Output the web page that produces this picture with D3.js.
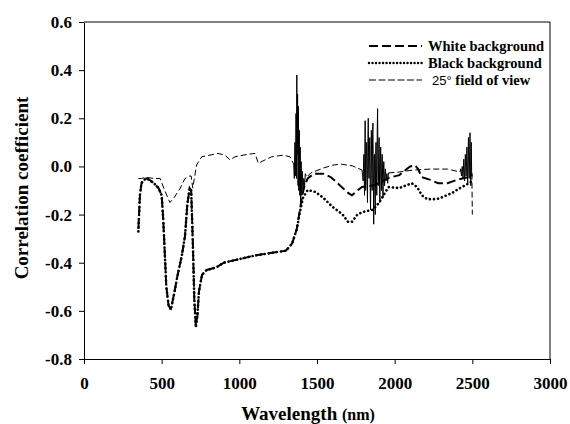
<!DOCTYPE html>
<html>
<head>
<meta charset="utf-8">
<script src="https://cdn.jsdelivr.net/npm/d3@7/dist/d3.min.js"></script>
<style>
body{margin:0;background:#fff;}
svg text{font-family:"Liberation Serif","Times New Roman",serif;font-weight:bold;fill:#000;}
</style>
</head>
<body>
<svg id="chart" width="570" height="424"></svg>
<script>
// ---- data ----
const xTicks = [0, 500, 1000, 1500, 2000, 2500, 3000];
const yTicks = [-0.8, -0.6, -0.4, -0.2, 0.0, 0.2, 0.4, 0.6];

const whiteWl = [350,360,370,380,400,420,450,480,500,510,520,530,545,560,580,600,630,650,665,680,690,700,710,720,730,740,760,790,850,900,1000,1100,1200,1300,1340,1370,1390,1405,1420,1440,1480,1540,1590,1650,1700,1725,1760,1790,1850,1900,1960,2030,2080,2100,2130,2150,2175,2230,2280,2340,2400,2470,2500];
const whiteR  = [-0.26,-0.12,-0.07,-0.06,-0.05,-0.055,-0.07,-0.09,-0.12,-0.22,-0.36,-0.50,-0.58,-0.59,-0.53,-0.46,-0.37,-0.29,-0.16,-0.09,-0.10,-0.30,-0.55,-0.66,-0.62,-0.52,-0.45,-0.43,-0.42,-0.40,-0.385,-0.37,-0.36,-0.35,-0.32,-0.26,-0.18,-0.12,-0.08,-0.05,-0.03,-0.03,-0.045,-0.08,-0.11,-0.12,-0.10,-0.085,-0.08,-0.07,-0.048,-0.036,-0.01,0.0,0.005,-0.01,-0.045,-0.056,-0.07,-0.07,-0.056,-0.045,-0.04];

const blackWl = [350,360,370,380,400,420,450,480,500,510,520,530,545,560,580,600,630,650,665,680,690,700,710,720,730,740,760,790,850,900,1000,1100,1200,1300,1340,1370,1390,1410,1440,1490,1540,1600,1665,1700,1725,1760,1790,1860,1900,1960,2030,2080,2110,2145,2175,2210,2270,2310,2370,2420,2470,2500];
const blackR  = [-0.27,-0.12,-0.07,-0.06,-0.05,-0.055,-0.07,-0.09,-0.12,-0.22,-0.36,-0.50,-0.58,-0.595,-0.53,-0.46,-0.37,-0.29,-0.16,-0.09,-0.10,-0.30,-0.55,-0.67,-0.62,-0.52,-0.45,-0.43,-0.42,-0.40,-0.385,-0.37,-0.36,-0.35,-0.32,-0.26,-0.19,-0.13,-0.098,-0.106,-0.13,-0.168,-0.20,-0.23,-0.23,-0.20,-0.19,-0.18,-0.15,-0.086,-0.09,-0.077,-0.07,-0.086,-0.12,-0.136,-0.136,-0.127,-0.11,-0.09,-0.073,-0.06];

const fovWl = [350,370,400,450,490,520,553,580,620,650,680,690,700,725,758,811,862,908,940,972,1050,1101,1122,1165,1208,1283,1326,1350,1420,1440,1460,1540,1600,1650,1730,1790,1800,1958,1960,2030,2120,2230,2340,2420,2425,2497,2500];
const fovR  = [-0.05,-0.05,-0.045,-0.05,-0.05,-0.10,-0.15,-0.13,-0.09,-0.05,-0.04,-0.04,-0.09,0.006,0.04,0.047,0.054,0.047,0.027,0.04,0.05,0.054,0.013,0.027,0.04,0.047,0.04,0.01,null,-0.04,-0.027,-0.007,0.005,0.01,0.002,-0.015,null,null,-0.027,-0.023,-0.015,-0.011,-0.011,-0.023,null,-0.03,-0.20];

// noisy water-absorption bands of the 25° field of view series
const noise1Wl = [1350,1354,1358,1360,1362,1365,1367,1368,1370,1372,1374,1375,1378,1380,1382,1383,1386,1389,1392,1395,1398,1402,1406,1410,1415,1420,1425,1430];
const noise1R  = [0.01,-0.05,0.10,-0.04,-0.02,0.22,0.0,-0.05,0.38,0.05,0.20,0.30,-0.08,0.25,0.0,-0.10,0.15,-0.12,0.08,-0.15,0.02,-0.12,-0.02,-0.10,-0.05,-0.08,-0.03,-0.04];
const noise2Wl = [1790,1797,1800,1802,1806,1808,1810,1813,1815,1818,1820,1823,1825,1828,1830,1833,1835,1838,1840,1843,1845,1848,1850,1853,1855,1858,1860,1863,1865,1868,1870,1873,1875,1878,1880,1883,1885,1888,1890,1893,1895,1898,1900,1903,1905,1908,1910,1913,1915,1918,1920,1923,1925,1928,1930,1935,1940,1945,1950,1955,1960];
const noise2R  = [-0.015,-0.06,0.02,0.05,-0.12,0.04,0.19,-0.10,-0.08,0.08,0.10,-0.06,-0.15,0.12,0.20,-0.02,-0.05,0.09,0.12,-0.12,-0.18,0.06,0.15,-0.03,-0.10,0.14,0.18,-0.07,-0.24,0.03,0.05,-0.12,-0.20,0.06,0.10,-0.05,-0.12,0.16,0.24,-0.02,-0.08,0.07,0.12,-0.09,-0.15,0.02,0.08,-0.04,-0.10,0.03,0.05,-0.08,-0.13,-0.01,0.02,-0.08,-0.01,-0.06,-0.03,-0.07,-0.027];
const noise3Wl = [2420,2425,2430,2435,2440,2445,2450,2455,2460,2463,2465,2468,2470,2473,2475,2478,2480,2483,2485,2488,2490,2493,2496,2499];
const noise3R  = [-0.023,-0.01,-0.04,0.0,-0.05,0.03,-0.06,0.05,-0.04,0.02,0.08,-0.03,-0.07,0.05,0.12,-0.02,-0.05,0.07,0.14,-0.04,-0.08,0.10,-0.04,-0.03];

const legendLabels = ["White background", "Black background", "25° field of view"];

// ---- layout ----
const svg = d3.select("#chart");
const x = d3.scaleLinear().domain([0, 3000]).range([84, 550]);
const y = d3.scaleLinear().domain([-0.8, 0.6]).range([359, 22]);

// frame
svg.append("line").attr("x1",84).attr("x2",550).attr("y1",22).attr("y2",22).attr("stroke","#000").attr("stroke-width",1);
svg.append("line").attr("x1",550).attr("x2",550).attr("y1",22).attr("y2",359).attr("stroke","#000").attr("stroke-width",1);

const xAxis = svg.append("g").attr("transform","translate(0,359)")
  .call(d3.axisBottom(x).tickValues(xTicks).tickSize(5).tickSizeOuter(0).tickPadding(13).tickFormat(d3.format("d")));
const yAxis = svg.append("g").attr("transform","translate(84,0)")
  .call(d3.axisLeft(y).tickValues(yTicks).tickSize(5).tickSizeOuter(0).tickPadding(7).tickFormat(d3.format(".1f")));
[xAxis, yAxis].forEach(g => {
  g.select(".domain").attr("stroke","#000").attr("stroke-width",1);
  g.selectAll(".tick line").attr("stroke","#000");
  g.selectAll(".tick text").style("font-family","'Liberation Serif',serif").style("font-weight","bold").style("font-size","17px").attr("fill","#000");
});
yAxis.selectAll(".tick text").text(d => d < 0 ? "-" + Math.abs(d).toFixed(1) : d.toFixed(1));

svg.append("text").attr("x",308).attr("y",420).attr("text-anchor","middle").style("font-size","19px")
  .text("Wavelength ").append("tspan").style("font-size","16px").text("(nm)");
svg.append("text").attr("transform","translate(28,188) rotate(-90)").attr("text-anchor","middle").style("font-size","19px")
  .text("Correlation coefficient");

// ---- lines ----
const line = d3.line().defined(d => d[1] !== null).x(d => x(d[0])).y(d => y(d[1]));
const zip = (a, b) => a.map((v, i) => [v, b[i]]);

const plot = svg.append("g");
// 25° field of view: thin dash
plot.append("path").datum(zip(fovWl, fovR)).attr("d", line)
  .attr("fill","none").attr("stroke","#000").attr("stroke-width",1).attr("stroke-dasharray","6,3");
[[noise1Wl,noise1R],[noise2Wl,noise2R],[noise3Wl,noise3R]].forEach(([a,b]) => {
  plot.append("path").datum(zip(a,b)).attr("d", line)
    .attr("fill","none").attr("stroke","#000").attr("stroke-width",1);
});
// White background: thick long dash
plot.append("path").datum(zip(whiteWl, whiteR)).attr("d", line)
  .attr("fill","none").attr("stroke","#000").attr("stroke-width",2).attr("stroke-dasharray","9,4");
// Black background: thick dotted
plot.append("path").datum(zip(blackWl, blackR)).attr("d", line)
  .attr("fill","none").attr("stroke","#000").attr("stroke-width",2.6).attr("stroke-linecap","round").attr("stroke-dasharray","0.1,4");

// ---- legend ----
const legStyles = [
  {w:2, dash:"9,4", cap:"butt"},
  {w:2.4, dash:"0.1,3.4", cap:"round"},
  {w:1, dash:"7,2.5", cap:"butt"}
];
const leg = svg.append("g");
legendLabels.forEach((lab, i) => {
  const yy = 46 + i * 17;
  leg.append("line").attr("x1",369).attr("x2",422).attr("y1",yy).attr("y2",yy)
    .attr("stroke","#000").attr("stroke-width",legStyles[i].w).attr("stroke-dasharray",legStyles[i].dash).attr("stroke-linecap",legStyles[i].cap);
  const t = leg.append("text").attr("x", i === 2 ? 432 : 428).attr("y", yy + 5).style("font-size","14.5px");
  if (i === 2) {
    t.append("tspan").style("font-weight","normal").style("font-family","'Liberation Sans',Arial,sans-serif").style("font-size","13px").text("25°");
    t.append("tspan").text(" field of view");
  } else {
    t.text(lab);
  }
});
</script>
</body>
</html>
